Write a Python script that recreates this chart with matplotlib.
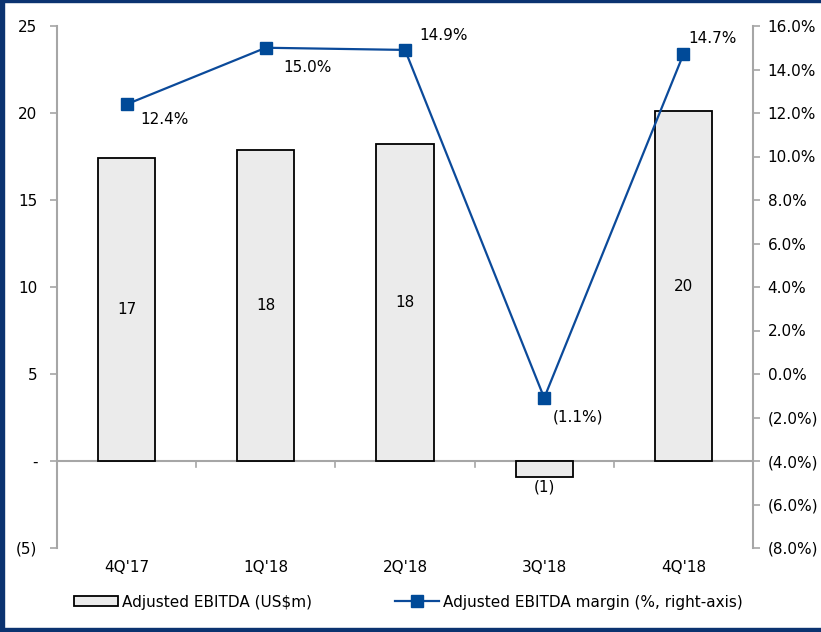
import matplotlib
matplotlib.use("Agg")
import matplotlib.pyplot as plt
from matplotlib.patches import Rectangle
from matplotlib.lines import Line2D
from matplotlib.patches import Patch

categories = ["4Q'17", "1Q'18", "2Q'18", "3Q'18", "4Q'18"]
ebitda = [17.4, 17.9, 18.2, -0.9, 20.1]
margin = [12.4, 15.0, 14.9, -1.1, 14.7]
left_ticks = [-5, 0, 5, 10, 15, 20, 25]
left_labels = ["(5)", "-", "5", "10", "15", "20", "25"]
right_ticks = [-8, -6, -4, -2, 0, 2, 4, 6, 8, 10, 12, 14, 16]

plt.rcParams['font.family'] = ['DejaVu Sans']
W, H = 821, 632
fig = plt.figure(figsize=(W / 100, H / 100), dpi=100)
fig.patch.set_facecolor('white')

ax = fig.add_axes([57 / W, (H - 548) / H, (753 - 57) / W, (548 - 26) / H])
ax2 = ax.twinx()

grey = '#A6A6A6'
navy = '#0B4A9A'
fs = 11

x = list(range(len(categories)))
ax.bar(x, ebitda, width=0.41, color='#EBEBEB', edgecolor='black', linewidth=1.3, zorder=2)
ax.set_xlim(-0.5, len(categories) - 0.5)
ax.set_ylim(-5, 25)
ax.set_yticks(left_ticks)
ax.set_yticklabels(left_labels, fontsize=fs)
ax.tick_params(axis='y', direction='out', length=5, width=1.2, color=grey, pad=9)
ax.set_xticks(x)
ax.set_xticklabels(categories, fontsize=fs)
ax.tick_params(axis='x', length=0, pad=9)
for s in ['top', 'right', 'bottom']:
    ax.spines[s].set_visible(False)
ax.spines['left'].set_color(grey)
ax.spines['left'].set_linewidth(1.5)

# zero line with category-boundary ticks
ax.axhline(0, color=grey, linewidth=1.5, zorder=1)
for b in [i + 0.5 for i in x[:-1]]:
    ax.plot([b, b], [0, -0.35], color=grey, linewidth=1.2, zorder=1)

for xi, v in zip(x, ebitda):
    lab = f"{round(v):d}" if v >= 0 else f"({round(-v):d})"
    if v >= 0:
        ax.text(xi, v / 2, lab, ha='center', va='center', fontsize=fs, zorder=3)
    else:
        ax.text(xi, v - 0.15, lab, ha='center', va='top', fontsize=fs, zorder=3)

ax2.plot(x, margin, color=navy, linewidth=1.6, marker='s', markersize=9,
         markerfacecolor='#004A98', markeredgecolor='#004A98', zorder=4)
ax2.set_ylim(-8, 16)
ax2.set_yticks(right_ticks)
ax2.set_yticklabels([f"{t:.1f}%" if t >= 0 else f"({-t:.1f}%)" for t in right_ticks], fontsize=fs)
ax2.tick_params(axis='y', direction='out', length=5, width=1.2, color=grey, pad=5.5)
for s in ['top', 'left', 'bottom']:
    ax2.spines[s].set_visible(False)
ax2.spines['right'].set_color(grey)
ax2.spines['right'].set_linewidth(1.5)

offsets = [(14, -15), (18, -20), (14, 14), (9, -19), (5, 16)]
for xi, m, (dx, dy) in zip(x, margin, offsets):
    lab = f"{m:.1f}%" if m >= 0 else f"({-m:.1f}%)"
    ax2.annotate(lab, (xi, m), xytext=(dx, dy), textcoords='offset pixels',
                 ha='left', va='center', fontsize=fs)

h1 = Patch(facecolor='#EBEBEB', edgecolor='black', linewidth=1.3)
h2 = Line2D([], [], color=navy, linewidth=1.6, marker='s', markersize=8,
            markerfacecolor='#004A98', markeredgecolor='#004A98')
fig.legend([h1], ["Adjusted EBITDA (US$m)"], loc='center left',
           bbox_to_anchor=(66 / W, (H - 602) / H), frameon=False, fontsize=fs,
           handlelength=2.9, handleheight=0.6, handletextpad=0.25, borderpad=0)
fig.legend([h2], ["Adjusted EBITDA margin (%, right-axis)"], loc='center left',
           bbox_to_anchor=(387 / W, (H - 602) / H), frameon=False, fontsize=fs,
           handlelength=2.9, handletextpad=0.25, borderpad=0)

border = '#0B3370'
fig.patches.append(Rectangle((0, 0), 4 / W, 1, transform=fig.transFigure, color=border, zorder=10))
fig.patches.append(Rectangle((0, 1 - 2 / H), 1, 2 / H, transform=fig.transFigure, color=border, zorder=10))
fig.patches.append(Rectangle((0, 0), 1, 4 / H, transform=fig.transFigure, color=border, zorder=10))

fig.savefig('out.png', dpi=100)
